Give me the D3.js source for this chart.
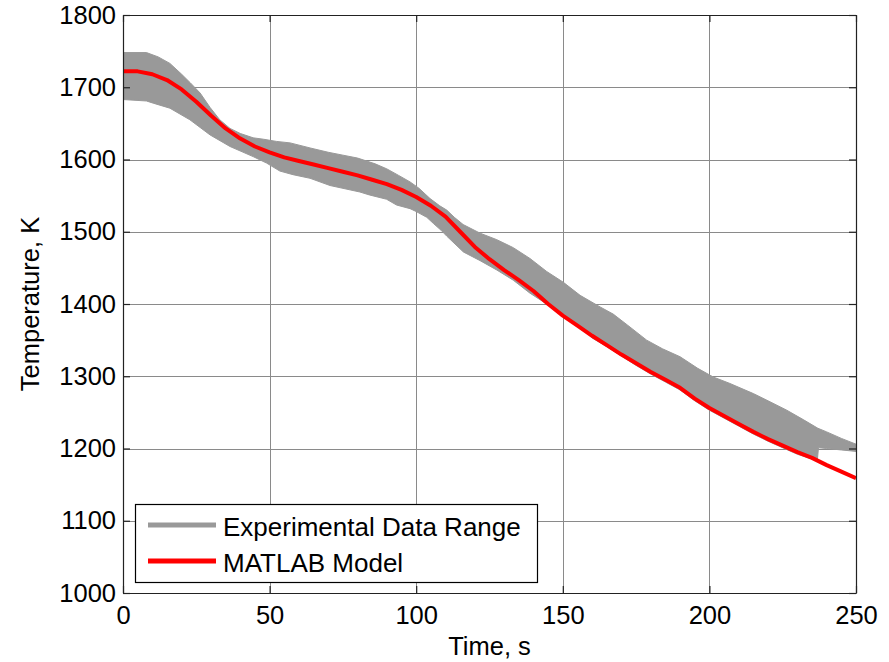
<!DOCTYPE html>
<html>
<head>
<meta charset="utf-8">
<script src="https://cdn.jsdelivr.net/npm/d3@7"></script>
<style>
  html, body { margin: 0; padding: 0; background: #fff; }
  svg { display: block; font-family: "Liberation Sans", Arial, Helvetica, sans-serif; }
</style>
</head>
<body>
<svg id="chart" width="889" height="662"></svg>
<script>
// Upper edge of the experimental envelope: [time s, temperature K]
const bandUpper = [
  [0, 1748], [8, 1748], [12, 1742], [16, 1733], [20, 1718], [23, 1706], [26.3, 1692],
  [29.7, 1672], [33, 1655], [36.5, 1643], [40, 1636], [44.4, 1630], [48, 1628],
  [52.4, 1625], [57, 1623], [63.8, 1616], [70, 1610], [75, 1606], [80, 1602],
  [86, 1594], [90, 1587], [94, 1578], [97.9, 1569], [101, 1560], [104.7, 1546],
  [108, 1536], [110.4, 1530], [113, 1520], [116, 1510], [121.8, 1498], [127.5, 1489],
  [133.1, 1478], [138.8, 1463], [144.5, 1445], [150.2, 1430], [155.9, 1412],
  [162.7, 1396], [167.2, 1386], [172, 1371], [178.6, 1350], [184, 1338], [190, 1327],
  [196, 1311], [201.3, 1299], [207, 1290], [215, 1276], [220, 1266], [226.4, 1253],
  [232, 1240], [237, 1228], [240, 1223], [245, 1214], [250, 1206]
];

// Lower edge of the experimental envelope: [time s, temperature K]
const bandLower = [
  [0, 1683], [8, 1681], [10.3, 1678], [16, 1671], [22.8, 1655], [29.7, 1634],
  [36.5, 1618], [44.4, 1604], [49, 1595], [53.5, 1584], [58, 1579], [63.8, 1574],
  [70.6, 1564], [80.8, 1555], [84, 1551], [89.9, 1545], [93.3, 1537], [97.9, 1532],
  [100, 1528], [103.6, 1520], [106, 1511], [108.5, 1502], [110.4, 1494],
  [116.1, 1472], [121.8, 1460], [127.5, 1447], [133.1, 1433], [138.8, 1415],
  [144.5, 1400], [150.2, 1384], [155.9, 1368], [160, 1353], [165, 1341],
  [170, 1328], [175, 1315], [180, 1303], [185, 1292], [190, 1281], [195, 1266],
  [200, 1253], [205, 1242], [210, 1231], [215, 1220], [220, 1210], [225, 1201],
  [230, 1192], [236.8, 1183], [237.2, 1201], [240, 1200], [245, 1198], [250, 1196]
];

// MATLAB model prediction: [time s, temperature K]
const modelSeries = [
  [0, 1722], [5, 1722], [10, 1718], [15, 1710], [20, 1697], [25, 1680], [30, 1661],
  [35, 1643], [40, 1629], [45, 1618], [50, 1610], [55, 1603], [60, 1598], [65, 1593],
  [70, 1588], [75, 1583], [80, 1578], [85, 1572], [90, 1566], [95, 1558], [100, 1548],
  [105, 1536], [110, 1521], [115, 1500], [120, 1479], [125, 1462], [130, 1447],
  [135, 1433], [140, 1418], [145, 1400], [150, 1384], [155, 1370], [160, 1356],
  [165, 1343], [170, 1330], [175, 1318], [180, 1306], [185, 1295], [190, 1284],
  [195, 1269], [200, 1256], [205, 1245], [210, 1234], [215, 1223], [220, 1213],
  [225, 1204], [230, 1195], [235, 1187], [240, 1177], [245, 1168], [250, 1159]
];

// Short blue trace at the start, mostly hidden under the envelope
const blueTrace = [[0, 1694], [0, 1706]];

const xTicks = [0, 50, 100, 150, 200, 250];
const yTicks = [1000, 1100, 1200, 1300, 1400, 1500, 1600, 1700, 1800];
const legendLabels = ["Experimental Data Range", "MATLAB Model"];

const svg = d3.select("#chart");
const plotLeft = 123, plotRight = 856, plotTop = 15, plotBottom = 593;

const x = d3.scaleLinear().domain([0, 250]).range([plotLeft, plotRight]);
const y = d3.scaleLinear().domain([1000, 1800]).range([plotBottom, plotTop]);

// clip for plotted data
svg.append("defs").append("clipPath").attr("id", "plotClip")
  .append("rect").attr("x", plotLeft).attr("y", plotTop)
  .attr("width", plotRight - plotLeft).attr("height", plotBottom - plotTop);

// grid
const grid = svg.append("g").attr("stroke", "#8a8a8a").attr("stroke-width", 1);
grid.selectAll("line.v").data(xTicks.slice(1, -1)).join("line").attr("class", "v")
  .attr("x1", d => Math.round(x(d)) + 0.5).attr("x2", d => Math.round(x(d)) + 0.5)
  .attr("y1", plotTop).attr("y2", plotBottom);
grid.selectAll("line.h").data(yTicks.slice(1, -1)).join("line").attr("class", "h")
  .attr("x1", plotLeft).attr("x2", plotRight)
  .attr("y1", d => Math.round(y(d)) + 0.5).attr("y2", d => Math.round(y(d)) + 0.5);

const plot = svg.append("g").attr("clip-path", "url(#plotClip)");
const line = d3.line().x(d => x(d[0])).y(d => y(d[1]));

plot.append("path")
  .attr("d", line(blueTrace))
  .attr("stroke", "#0000ff").attr("stroke-width", 3).attr("fill", "none");

// envelope polygon: upper edge forward, lower edge back
const envelope = bandUpper.concat(bandLower.slice().reverse());
plot.append("path")
  .attr("d", line(envelope) + "Z")
  .attr("fill", "#999999").attr("stroke", "#999999").attr("stroke-width", 1);

plot.append("path")
  .attr("d", line(modelSeries))
  .attr("fill", "none").attr("stroke", "#ff0000").attr("stroke-width", 4)
  .attr("stroke-linejoin", "round");

// axes (ticks point inward on all four sides)
const fontSize = 25.5;
const fmt = d3.format("d");
const gx = svg.append("g").attr("transform", `translate(0,${plotBottom})`)
  .call(d3.axisBottom(x).tickValues(xTicks).tickFormat(fmt)
    .tickSizeInner(-7).tickSizeOuter(0).tickPadding(13));
const gy = svg.append("g").attr("transform", `translate(${plotLeft},0)`)
  .call(d3.axisLeft(y).tickValues(yTicks).tickFormat(fmt)
    .tickSizeInner(-7).tickSizeOuter(0).tickPadding(7));
const gt = svg.append("g").attr("transform", `translate(0,${plotTop})`)
  .call(d3.axisTop(x).tickValues(xTicks).tickSizeInner(-7).tickSizeOuter(0).tickFormat(""));
const gr = svg.append("g").attr("transform", `translate(${plotRight},0)`)
  .call(d3.axisRight(y).tickValues(yTicks).tickSizeInner(-7).tickSizeOuter(0).tickFormat(""));

[gx, gy, gt, gr].forEach(g => {
  g.selectAll(".domain").attr("stroke", "#222").attr("stroke-width", 1.2);
  g.selectAll(".tick line").attr("stroke", "#222").attr("stroke-width", 1.2);
  g.selectAll(".tick text").attr("fill", "#000")
    .style("font-size", fontSize + "px")
    .style("font-family", "'Liberation Sans', Arial, sans-serif");
});

// axis titles
svg.append("text")
  .attr("x", (plotLeft + plotRight) / 2).attr("y", 655)
  .attr("text-anchor", "middle")
  .style("font-size", fontSize + "px")
  .text("Time, s");

svg.append("text")
  .attr("transform", `translate(38.5,${(plotTop + plotBottom) / 2}) rotate(-90)`)
  .attr("text-anchor", "middle")
  .style("font-size", fontSize + "px")
  .text("Temperature, K");

// legend
const legend = svg.append("g");
legend.append("rect")
  .attr("x", 135.5).attr("y", 504.5).attr("width", 402).attr("height", 78)
  .attr("fill", "#fff").attr("stroke", "#000").attr("stroke-width", 1.2);
const legendColors = ["#999999", "#ff0000"];
const legendY = [525, 561];
legendLabels.forEach((label, i) => {
  legend.append("line")
    .attr("x1", 148).attr("x2", 216)
    .attr("y1", legendY[i]).attr("y2", legendY[i])
    .attr("stroke", legendColors[i]).attr("stroke-width", 5);
  legend.append("text")
    .attr("x", 223).attr("y", legendY[i] + 10.5)
    .style("font-size", "26px")
    .text(label);
});
</script>
</body>
</html>
